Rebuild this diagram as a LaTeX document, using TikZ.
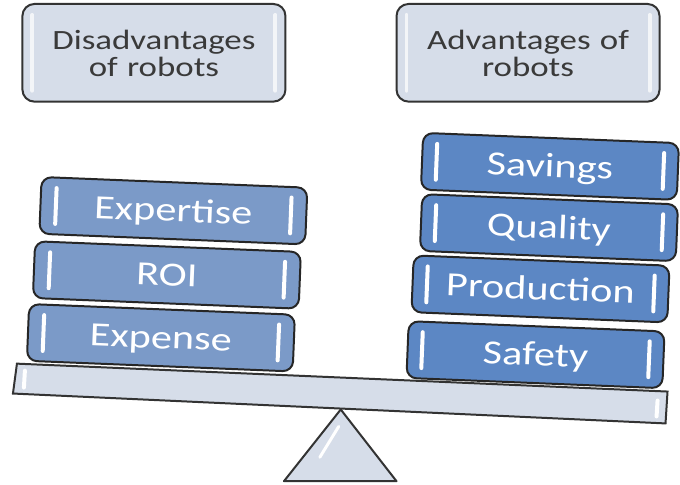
\documentclass[tikz,border=0pt]{standalone}
\usepackage{fontspec}
\setmainfont{Carlito}[FakeStretch=1.25]
\usepackage{xcolor}

\definecolor{panelfill}{HTML}{D6DDE9}
\definecolor{edgegray}{HTML}{333333}
\definecolor{captiontext}{HTML}{3A3A3A}
\definecolor{conblue}{HTML}{7B9AC8}
\definecolor{problue}{HTML}{5C87C4}

\tikzset{
  panel/.style={draw=edgegray, line width=2pt, fill=panelfill, rounded corners=12pt,
    minimum width=264pt, minimum height=98pt, text width=250pt, align=center,
    text height=21pt, text depth=27pt, inner sep=0pt,
    font=\fontsize{28}{27}\selectfont, text=captiontext},
  block/.style={draw=black!85, line width=2pt, rounded corners=10pt, rotate=-2.3,
    minimum height=57pt, inner sep=0pt, text height=21.5pt, text depth=0pt,
    font=\fontsize{34}{40}\selectfont, text=white},
  conblock/.style={block, fill=conblue, minimum width=267pt},
  problock/.style={block, fill=problue, minimum width=257pt},
  glint/.style={white, line width=4pt, line cap=round},
}

\begin{document}
\begin{tikzpicture}[x=1pt,y=-1pt]
  \fill[white] (0,0) rectangle (680,486);

  % the two headings
  \node[panel] (cons) at (154.5,53) {Disadvantages\\of robots};
  \node[panel] (pros) at (530,53) {Advantages of\\robots};
  \foreach \p in {cons,pros}
  {
    \draw[glint, white!70!panelfill] ([shift={(11,-38)}]\p.west) -- ([shift={(11,38)}]\p.west);
    \draw[glint, white!70!panelfill] ([shift={(-11,-38)}]\p.east) -- ([shift={(-11,38)}]\p.east);
  };

  % fulcrum and beam
  \draw[edgegray, line width=2pt, fill=panelfill, line join=round] (342,411) -- (398,483) -- (285,483) -- cycle;
  \draw[white, line width=3pt, line cap=round] (340,428) -- (321,459);
  \draw[edgegray, line width=2pt, fill=panelfill] (17,365) -- (670,393) -- (668,425) -- (13,395) -- cycle;
  \draw[glint] (25,372) -- (24,389);
  \draw[glint] (660,402) -- (659,418);

  % left pile
  \foreach \nm/\x/\y/\txt in {expense/161.5/339/Expense, roi/167.5/276/ROI, expertise/174/211.5/Expertise}
  {
    \node[conblock] (\nm) at (\x,\y) {\txt};
    \begin{scope}[shift={(\nm.center)}, rotate=-2.3]
      \draw[glint] (-118,-18) -- (-118,18);
      \draw[glint] (118,-18) -- (118,18);
    \end{scope}
  };

  % right pile
  \foreach \nm/\x/\y/\txt in {safety/537.5/356/Safety, production/542.5/290/Production, quality/551/228.5/Quality, savings/552/167/Savings}
  {
    \node[problock] (\nm) at (\x,\y) {\txt};
    \begin{scope}[shift={(\nm.center)}, rotate=-2.3]
      \draw[glint] (-114,-18) -- (-114,18);
      \draw[glint] (114,-18) -- (114,18);
    \end{scope}
  };
\end{tikzpicture}
\end{document}
